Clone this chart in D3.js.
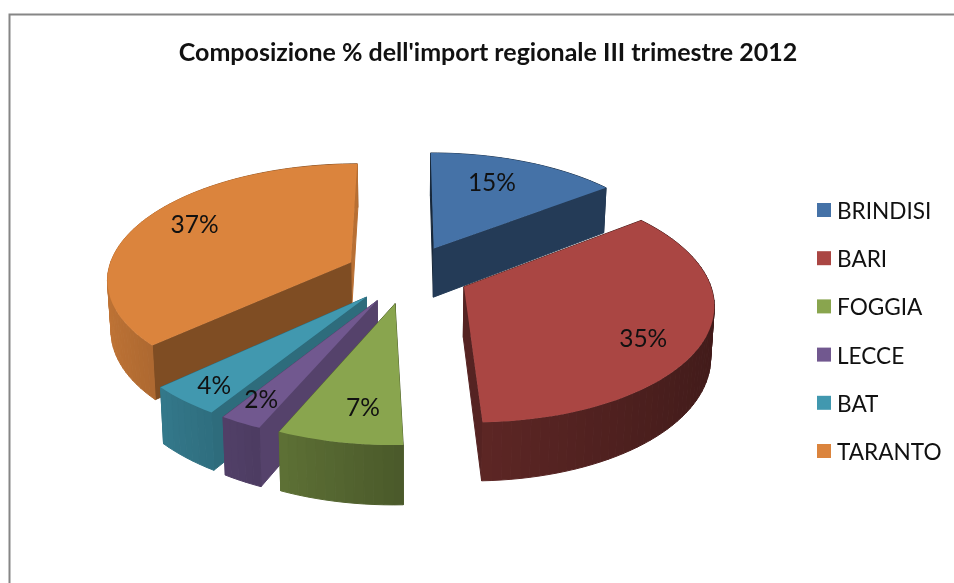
<!DOCTYPE html>
<html>
<head>
<meta charset="utf-8">
<script src="https://cdn.jsdelivr.net/npm/d3@7"></script>
<style>
	html, body { margin: 0; padding: 0; background: #fff; }
	svg { display: block; filter: blur(0.5px); }
	text { font-family: Lato, "Open Sans", sans-serif; fill: #111; }
</style>
</head>
<body>
<div id="chart"></div>
<script>
const categories = ["BRINDISI", "BARI", "FOGGIA", "LECCE", "BAT", "TARANTO"];
// the labels show them rounded
const shares = [14.6, 34.85, 7.05, 2.4, 4.2, 36.9];
const chartTitle = "Composizione % dell'import regionale III trimestre 2012";

const colors = ["#4572a7", "#aa4643", "#89a54e", "#71588f", "#4198af", "#db843d"];
// how dark the two flat cut walls of each slice are, relative to its top
const startWallShade = [0.35, 0.45, 0.6, 0.75, 0.71, 0.58];
const endWallShade = [0.52, 0.5, 0.6, 0.75, 0.71, 0.84];
// where the percentage sits: along the radius, and across the slice's arc
const labelRadius = [0.72, 0.79, 0.77, 0.835, 0.86, 0.78];
const labelSweep = [0.43, 0.55, 0.4, 0.65, 0.45, 0.53];

const width = 954, height = 583;
const view = { cx: 407, cy: 274, rx: 243.5, ry: 114.4, perspective: 0.131, depth: 50, narrow: 0.012 };
const explode = 0.255;

const svg = d3.select("#chart").append("svg")
	.attr("width", width)
	.attr("height", height);

// chart frame, runs off the right and bottom of the picture
svg.append("path")
	.attr("d", "M9.5," + height + "V14.5H" + width)
	.attr("fill", "none")
	.attr("stroke", "#868686")
	.attr("stroke-width", 2);

svg.append("text")
	.attr("x", 488)
	.attr("y", 61)
	.attr("text-anchor", "middle")
	.attr("font-size", 25)
	.attr("font-weight", 700)
	.text(chartTitle);

// ground plane (radius 1, y towards the viewer) to screen
function project(x, y, z) {
	const s = 1 / (1 - view.perspective * y);
	const k = 1 - view.narrow * z;
	return [view.cx + view.rx * x * s * k, view.cy + view.ry * y * s + view.depth * s * z];
}

// outer wall shade by how far the wall faces to the right
const rimShade = d3.scaleLinear().domain([-1, 0, 1]).range([0.88, 0.55, 0.38]);

const line = d3.line();
const arcs = d3.pie().sort(null).value(d => d)(shares);

const slices = arcs.map((a, i) => {
	const mid = (a.startAngle + a.endAngle) / 2;
	const ox = explode * Math.sin(mid);
	const oy = -explode * Math.cos(mid);
	const steps = Math.max(2, Math.ceil((a.endAngle - a.startAngle) / (Math.PI / 90)));
	const angles = d3.range(steps + 1).map(j => a.startAngle + (a.endAngle - a.startAngle) * j / steps);
	const rim = angles.map(t => [ox + Math.sin(t), oy - Math.cos(t)]);
	return { i, mid, ox, oy, angles, rim, startAngle: a.startAngle, endAngle: a.endAngle };
}).sort((p, q) => d3.ascending(-Math.cos(p.mid), -Math.cos(q.mid)));

function quad(p, q) {
	return line([project(p[0], p[1], 0), project(q[0], q[1], 0), project(q[0], q[1], 1), project(p[0], p[1], 1)]) + "Z";
}

const sliceGroups = svg.selectAll("g.slice")
	.data(slices)
	.join("g")
	.attr("class", "slice");

sliceGroups.each(function (d) {
	const g = d3.select(this);
	const base = d3.color(colors[d.i]);
	const shade = f => d3.rgb(base.r * f, base.g * f, base.b * f).formatHex();
	const apex = [d.ox, d.oy];
	const first = d.rim[0], last = d.rim[d.rim.length - 1];

	const walls = [
		{ path: quad(apex, first), fill: shade(startWallShade[d.i]), y: (apex[1] + first[1]) / 2 },
		{ path: quad(apex, last), fill: shade(endWallShade[d.i]), y: (apex[1] + last[1]) / 2 }
	];
	d3.pairs(d.rim).forEach((seg, j) => {
		const t = (d.angles[j] + d.angles[j + 1]) / 2;
		walls.push({ path: quad(seg[0], seg[1]), fill: shade(rimShade(Math.sin(t))), y: (seg[0][1] + seg[1][1]) / 2 });
	});
	walls.sort((p, q) => d3.ascending(p.y, q.y));

	g.selectAll("path.wall")
		.data(walls)
		.join("path")
		.attr("class", "wall")
		.attr("d", w => w.path)
		.attr("fill", w => w.fill)
		.attr("stroke", w => w.fill)
		.attr("stroke-width", 1);

	g.append("path")
		.attr("d", line([apex].concat(d.rim).map(p => project(p[0], p[1], 0))) + "Z")
		.attr("fill", colors[d.i]);
});

// percentages go on top of everything
svg.selectAll("text.share")
	.data(slices)
	.join("text")
	.attr("class", "share")
	.attr("text-anchor", "middle")
	.attr("font-size", 24.5)
	.attr("transform", d => {
		const f = labelRadius[d.i];
		const t = d.startAngle + (d.endAngle - d.startAngle) * labelSweep[d.i];
		const p = project(d.ox + f * Math.sin(t), d.oy - f * Math.cos(t), 0);
		return "translate(" + p[0] + "," + (p[1] + 8.5) + ")";
	})
	.text(d => Math.round(shares[d.i]) + "%");

// legend
const legendY = d3.scalePoint().domain(categories).range([210, 451]);

const legend = svg.selectAll("g.legend")
	.data(categories)
	.join("g")
	.attr("class", "legend")
	.attr("transform", d => "translate(817," + legendY(d) + ")");

legend.append("rect")
	.attr("y", -7)
	.attr("width", 14)
	.attr("height", 14)
	.attr("fill", (d, i) => colors[i]);

legend.append("text")
	.attr("x", 20)
	.attr("y", 9)
	.attr("font-size", 22.6)
	.text(d => d);
</script>
</body>
</html>
